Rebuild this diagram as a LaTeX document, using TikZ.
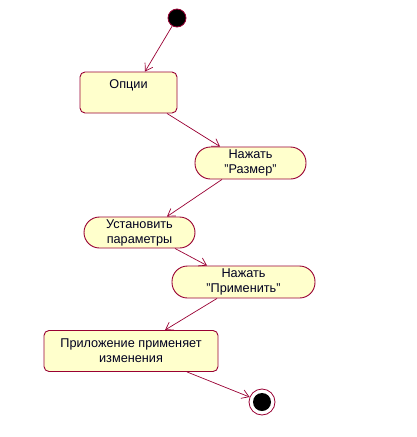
\documentclass[tikz,border=0pt]{standalone}
\usepackage{fontspec}
\setmainfont{Liberation Sans}
\usetikzlibrary{arrows.meta}
\definecolor{edge}{HTML}{990033}
\definecolor{boxfill}{HTML}{FFFFCC}
\definecolor{txt}{HTML}{000020}
\tikzset{
  actbox/.style={draw=edge, fill=boxfill, line width=0.9pt, rounded corners=5pt, align=center, inner sep=0pt, text=txt, font=\fontsize{12.7}{15}\selectfont},
  actpill/.style={actbox, rounded corners=15.5pt},
  flow/.style={draw=edge, line width=0.7pt, -{Straight Barb[length=7pt,width=9pt]}},
}
\begin{document}
\begin{tikzpicture}[x=1pt,y=-1pt]
\useasboundingbox (0,0) rectangle (416,437);
\node[circle, draw=edge, fill=black, line width=0.8pt, minimum size=18pt, inner sep=0pt] (start) at (177,18) {};
\node[actbox, minimum width=97pt, minimum height=41pt] (opts) at (128.5,92.5) {Опции\\[2pt]~};
\node[actpill, minimum width=111pt, minimum height=32pt] (razmer) at (250.5,163) {Нажать\\"Размер"};
\node[actpill, minimum width=111pt, minimum height=31pt] (ustanov) at (139.5,232.5) {Установить\\параметры};
\node[actpill, minimum width=143pt, minimum height=32pt] (primen) at (243.5,282) {Нажать\\"Применить"};
\node[actbox, minimum width=174pt, minimum height=41pt] (prilozh) at (131,351) {Приложение применяет\\изменения};
\node[circle, draw=edge, fill=white, line width=0.8pt, minimum size=26pt, inner sep=0pt] (end) at (262,402) {};
\node[circle, fill=black, minimum size=18pt, inner sep=0pt] (endin) at (end) {};
\draw[flow] (start) -- ([xshift=16.5pt]opts.north);
\draw[flow] ([xshift=38.5pt]opts.south) -- ([xshift=-30.5pt]razmer.north);
\draw[flow] ([xshift=-28.5pt]razmer.south) -- ([xshift=27.5pt]ustanov.north);
\draw[flow] ([xshift=35.5pt]ustanov.south) -- ([xshift=-36.5pt]primen.north);
\draw[flow] ([xshift=-26.5pt]primen.south) -- ([xshift=34pt]prilozh.north);
\draw[flow] ([xshift=56pt]prilozh.south) -- (end);
\end{tikzpicture}
\end{document}
